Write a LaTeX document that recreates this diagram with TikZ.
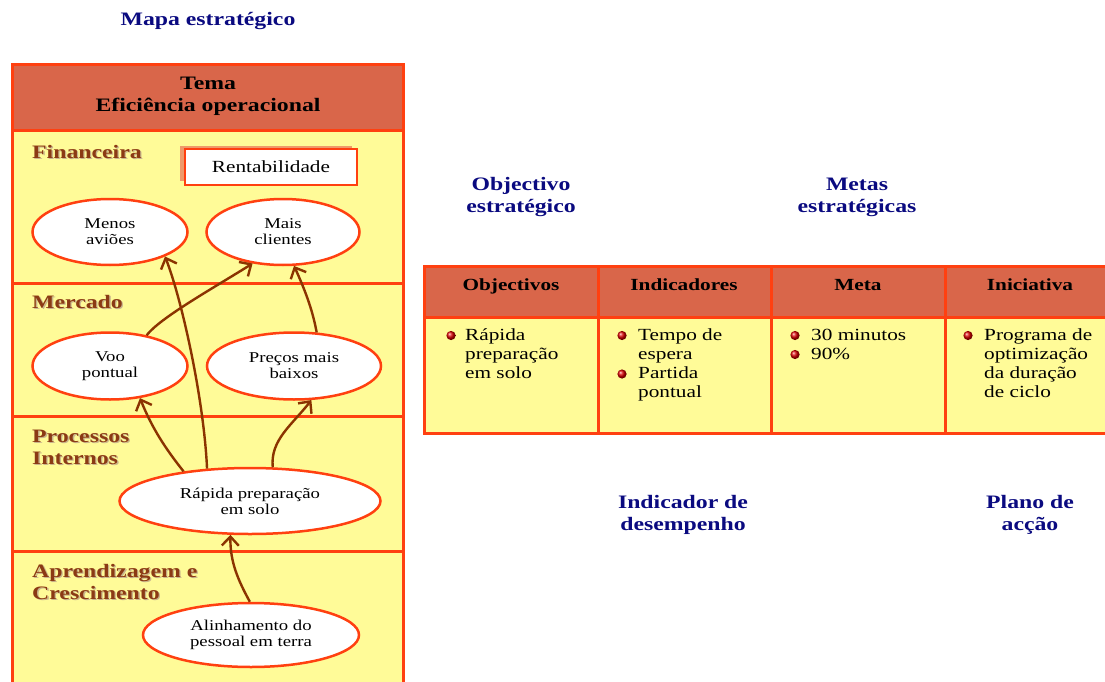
\documentclass[tikz,border=0pt]{standalone}
\usepackage{fontspec}
\setmainfont{Liberation Serif}[FakeStretch=1.25]
\usetikzlibrary{arrows.meta,shapes.geometric}
\definecolor{navyc}{HTML}{0A0A80}
\definecolor{redb}{HTML}{FF4010}
\definecolor{yel}{HTML}{FFFB98}
\definecolor{headc}{HTML}{D9664A}
\definecolor{brownc}{HTML}{8B3A14}
\definecolor{arrowc}{HTML}{8B3300}
\definecolor{shc}{HTML}{C8B48C}
\definecolor{boxsh}{HTML}{EE9A6A}
\newcommand\shtext[1]{\makebox[0pt][l]{\kern1.3pt\raisebox{-1.3pt}{\color{shc}#1}}#1}
\begin{document}
\begin{tikzpicture}[x=1pt,y=-1pt,
  navytxt/.style={text=navyc,font=\fontsize{19}{22}\selectfont\bfseries,align=center,inner sep=0pt,anchor=base},
  cat/.style={text=brownc,font=\fontsize{19}{22}\selectfont\bfseries,align=left,inner sep=0pt,anchor=base west},
  hdr/.style={text=black,font=\fontsize{17}{20}\selectfont\bfseries,align=center,inner sep=0pt,anchor=base},
  oval/.style={ellipse,draw=redb,line width=2.5pt,fill=white,inner sep=0pt,font=\fontsize{15}{16}\selectfont,align=center},
  body/.style={text=black,font=\fontsize{17}{19.3}\selectfont,align=left,inner sep=0pt,anchor=base west},
  flow/.style={draw=arrowc,line width=2.4pt,-{Straight Barb[length=9pt,width=17pt]}},
  frame/.style={draw=redb,line width=3pt},
  bullet/.style={ball color=red!85!black}
]
\clip (0,0) rectangle (1105,682);
\fill[white] (0,0) rectangle (1105,682);

% ---------- Left panel ----------
\node[navytxt] (title) at (208,26) {Mapa estratégico};
\fill[yel] (12,131) rectangle (403,700);
\fill[headc] (12,65) rectangle (403,131);
\draw[frame] (12,65) rectangle (403,700);
\draw[frame] (12,131) -- (403,131);
\draw[frame] (12,283) -- (403,283);
\draw[frame] (12,416) -- (403,416);
\draw[frame] (12,551) -- (403,551);
\node[hdr,font=\fontsize{19}{22}\selectfont\bfseries] (tema) at (208,112) {Tema\\Eficiência operacional};

\node[cat] (fin) at (32,158) {\shtext{Financeira}};
\node[cat] (mer) at (32,308) {\shtext{Mercado}};
\node[cat] (proc) at (32,464) {\shtext{Processos}\\\shtext{Internos}};
\node[cat] (apr) at (32,599) {\shtext{Aprendizagem e}\\\shtext{Crescimento}};

\fill[boxsh] (180,146) rectangle (352,181);
\node[draw=redb,line width=2.5pt,fill=white,minimum width=172pt,minimum height=36pt,inner sep=0pt,
      font=\fontsize{17}{20}\selectfont] (rent) at (271,167) {Rentabilidade};

\node[oval,minimum width=155pt,minimum height=66pt] (menos) at (110,232) {Menos\\aviões};
\node[oval,minimum width=153pt,minimum height=66pt] (mais) at (283,232) {Mais\\clientes};
\node[oval,minimum width=155pt,minimum height=67pt] (voo) at (110,366) {Voo\\pontual};
\node[oval,minimum width=174pt,minimum height=67pt] (precos) at (294,366) {Preços mais\\baixos};
\node[oval,minimum width=261pt,minimum height=66pt] (rap) at (250,501) {Rápida preparação\\em solo};
\node[oval,minimum width=216pt,minimum height=64pt] (alin) at (251,635) {Alinhamento do\\pessoal em terra};

\draw[flow] (rap.143) .. controls (204,400) and (182,300) .. (menos.-24);
\draw[flow] (voo.40) .. controls (160,318) and (210,290) .. (mais.-134);
\draw[flow] (precos.56) .. controls (313,312) and (306,292) .. (mais.-72);
\draw[flow] (rap.156) .. controls (165,448) and (152,428) .. (voo.-47);
\draw[flow] (rap.56) .. controls (270,440) and (292,425) .. (precos.-63);
\draw[flow] (alin.92) .. controls (238,580) and (230,562) .. (rap.-120);

% ---------- Right side ----------
\node[navytxt] (obj) at (521,212) {Objectivo\\estratégico};
\node[navytxt] (metas) at (857,212) {Metas\\estratégicas};
\node[navytxt] (ind) at (683,530) {Indicador de\\desempenho};
\node[navytxt] (plano) at (1030,530) {Plano de\\acção};

\fill[yel] (424,317) rectangle (1110,433);
\fill[headc] (424,266) rectangle (1110,317);
\draw[frame] (424,266) rectangle (1110,433);
\draw[frame] (424,317) -- (1110,317);
\draw[frame] (598,266) -- (598,433);
\draw[frame] (771,266) -- (771,433);
\draw[frame] (945,266) -- (945,433);

\node[hdr] (h1) at (511,290) {Objectivos};
\node[hdr] (h2) at (684,290) {Indicadores};
\node[hdr] (h3) at (858,290) {Meta};
\node[hdr] (h4) at (1030,290) {Iniciativa};

\shade[bullet] (451,335.5) circle (4.6);
\node[body] (c1) at (465,378.6) {Rápida\\preparação\\em solo};

\shade[bullet] (622,335.5) circle (4.6);
\node[body] (c2a) at (638,359.3) {Tempo de\\espera};
\shade[bullet] (622,374) circle (4.6);
\node[body] (c2b) at (638,397.9) {Partida\\pontual};

\shade[bullet] (795,335.5) circle (4.6);
\node[body] (c3a) at (811,340) {30 minutos};
\shade[bullet] (795,354.5) circle (4.6);
\node[body] (c3b) at (811,359.3) {90\%};

\shade[bullet] (968,335.5) circle (4.6);
\node[body] (c4) at (984,397.9) {Programa de\\optimização\\da duração\\de ciclo};
\end{tikzpicture}
\end{document}
